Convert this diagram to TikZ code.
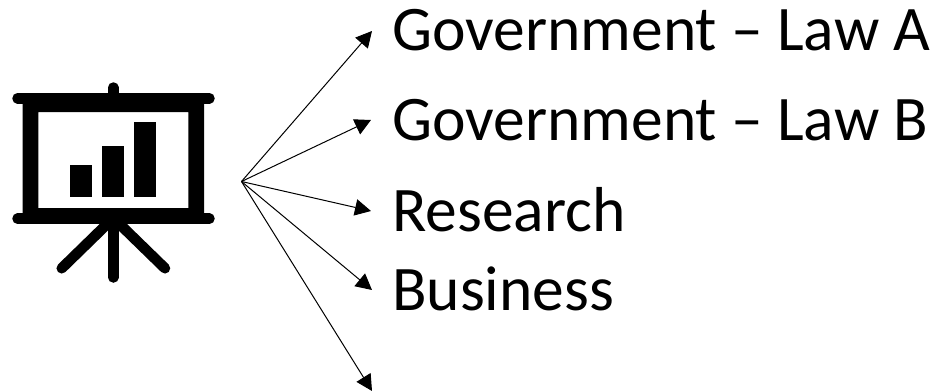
\documentclass[tikz,border=0pt]{standalone}
\usepackage{fontspec}
\setmainfont{Carlito}
\usetikzlibrary{arrows.meta}
\tikzset{
  label text/.style={anchor=base west,inner sep=0pt,font=\fontsize{63.5}{70}\selectfont,text=black},
  link/.style={draw=black,line width=1pt,-{Triangle[length=16pt,width=16.5pt]}},
  iconline/.style={draw=black,line cap=round,line width=10.5pt},
  iconbar/.style={fill=black,draw=none}
}
\begin{document}
\begin{tikzpicture}[x=1pt,y=-1pt]
\useasboundingbox (0,0) rectangle (938,391);
% icon
\fill[black,even odd rule] (22.7,98) rectangle (204,218) (38.3,112) rectangle (188.3,208);
\draw[iconline] (17.5,98.3) -- (209.5,98.3);
\draw[iconline] (17.5,218.7) -- (209.5,218.7);
\draw[iconline] (113.3,87.5) -- (113.3,98);
\draw[iconline] (113.3,218) -- (113.3,277.5);
\draw[iconline] (113.3,218) -- (61.7,268.3);
\draw[iconline] (113.3,218) -- (165,268.3);
\fill[iconbar] (70.3,165.3) rectangle (91.7,197.3);
\fill[iconbar] (102.3,146.3) rectangle (123.7,197.3);
\fill[iconbar] (134.3,122.3) rectangle (155.7,197.3);
% labels
\node[label text] (lawa) at (392,50) {Government – Law A};
\node[label text] (lawb) at (392,140.7) {Government – Law B};
\node[label text] (res) at (392,231) {Research};
\node[label text] (bus) at (392,310) {Business};
% connectors
\coordinate (hub) at (241.5,181.5);
\coordinate (ta) at (372,31);
\coordinate (tb) at (371,120);
\coordinate (tr) at (371,211);
\coordinate (tu) at (372,290);
\coordinate (te) at (372,391);
\draw[link] (hub) -- (ta);
\draw[link] (hub) -- (tb);
\draw[link] (hub) -- (tr);
\draw[link] (hub) -- (tu);
\draw[link] (hub) -- (te);
\end{tikzpicture}
\end{document}
